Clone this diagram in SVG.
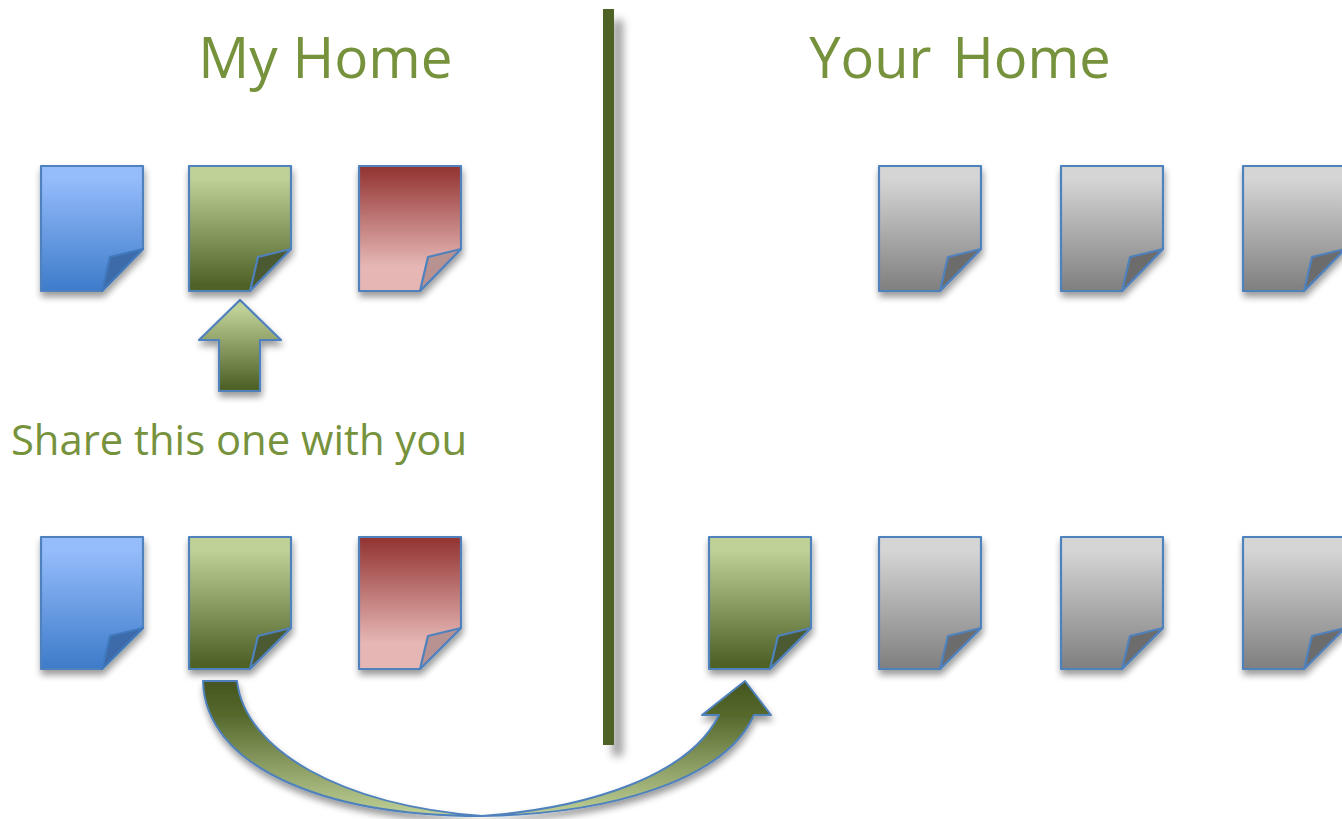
<svg xmlns="http://www.w3.org/2000/svg" xmlns:xlink="http://www.w3.org/1999/xlink" width="1342" height="819" viewBox="0 0 1342 819">
<style>
.t{font-family:"Open Sans","Noto Sans",sans-serif;fill:#76923c}
.s{stroke:#4f81bd;stroke-width:2.200;stroke-linejoin:round}
.blue{fill:url(#gb)}.green{fill:url(#gg)}.red{fill:url(#gr)}.grey{fill:url(#gy)}
.fb{fill:#3c6ba8;stroke:#4079bd}.fg{fill:#4c5a30}.fr{fill:#b89291}.fy{fill:#6c6c6c}
</style>
<defs>
<linearGradient id="gb" x1="0" y1="0" x2="0" y2="1"><stop offset="0.1" stop-color="#95bcfb"/><stop offset="1" stop-color="#3d7bca"/></linearGradient>
<linearGradient id="gg" x1="0" y1="0" x2="0" y2="1"><stop offset="0.1" stop-color="#c0d198"/><stop offset="0.95" stop-color="#4f6228"/></linearGradient>
<linearGradient id="gr" x1="0" y1="0" x2="0" y2="1"><stop offset="0.03" stop-color="#953735"/><stop offset="0.8" stop-color="#e5b6b4"/></linearGradient>
<linearGradient id="gy" x1="0" y1="0" x2="0" y2="1"><stop offset="0.1" stop-color="#d5d5d5"/><stop offset="1" stop-color="#7f7f7f"/></linearGradient>
<linearGradient id="gc" x1="0" y1="0" x2="0" y2="1"><stop offset="0" stop-color="#45551f"/><stop offset="0.25" stop-color="#55682c"/><stop offset="1" stop-color="#c0d198"/></linearGradient>
<filter id="sh" x="-20%" y="-20%" width="150%" height="150%"><feGaussianBlur in="SourceAlpha" stdDeviation="3.500"/><feOffset dx="1" dy="5"/><feComponentTransfer><feFuncA type="linear" slope="0.4"/></feComponentTransfer><feMerge><feMergeNode/><feMergeNode in="SourceGraphic"/></feMerge></filter>
<filter id="shl" x="-300%" y="-5%" width="800%" height="110%"><feGaussianBlur in="SourceAlpha" stdDeviation="4.500"/><feOffset dx="9" dy="11"/><feComponentTransfer><feFuncA type="linear" slope="0.38"/></feComponentTransfer><feMerge><feMergeNode/><feMergeNode in="SourceGraphic"/></feMerge></filter>
<path id="d1" d="M0 0H102V83L61 125H0Z"/>
<path id="f1" d="M102 83L69 91L61 125Z"/>
<path id="d2" d="M0 0H102V91L61 132H0Z"/>
<path id="f2" d="M102 91L69 99L61 132Z"/>
</defs>
<g id="connectors">
<path id="divider" d="M603 9H614V745H603Z" fill="#4f6228" filter="url(#shl)"/>
<g id="share-arrow"><path class="s green" filter="url(#sh)" d="M240 300L281 340H260V391H219V340H199Z"/></g>
<g id="curved-arrow"><path filter="url(#sh)" d="M203 681H237C245 750 340 805 482 816C590 808 690 775 719 715H702L745 681L771 715H754C725 780 610 814 482 816C320 816 205 765 203 681Z" fill="url(#gc)" stroke="#4f81bd" stroke-width="2" stroke-linejoin="round"/></g>
</g>
<g id="title-my"><text class="t" x="325.500" y="78" font-size="56.700" text-anchor="middle">My Home</text></g>
<g id="title-your"><text class="t" x="960" y="78" font-size="56" word-spacing="-4" text-anchor="middle" xml:space="preserve">Your  Home</text></g>
<g id="caption"><text class="t" x="239" y="455" font-size="41.800" text-anchor="middle">Share this one with you</text></g>
<g id="doc-blue-1" transform="translate(41 166)"><g filter="url(#sh)"><use xlink:href="#d1" class="s blue"/><use xlink:href="#f1" class="s fb"/></g></g>
<g id="doc-green-1" transform="translate(189 166)"><g filter="url(#sh)"><use xlink:href="#d1" class="s green"/><use xlink:href="#f1" class="s fg"/></g></g>
<g id="doc-red-1" transform="translate(359 166)"><g filter="url(#sh)"><use xlink:href="#d1" class="s red"/><use xlink:href="#f1" class="s fr"/></g></g>
<g id="doc-grey-1" transform="translate(879 166)"><g filter="url(#sh)"><use xlink:href="#d1" class="s grey"/><use xlink:href="#f1" class="s fy"/></g></g>
<g id="doc-grey-2" transform="translate(1061 166)"><g filter="url(#sh)"><use xlink:href="#d1" class="s grey"/><use xlink:href="#f1" class="s fy"/></g></g>
<g id="doc-grey-3" transform="translate(1243 166)"><g filter="url(#sh)"><use xlink:href="#d1" class="s grey"/><use xlink:href="#f1" class="s fy"/></g></g>
<g id="doc-blue-2" transform="translate(41 537)"><g filter="url(#sh)"><use xlink:href="#d2" class="s blue"/><use xlink:href="#f2" class="s fb"/></g></g>
<g id="doc-green-2" transform="translate(189 537)"><g filter="url(#sh)"><use xlink:href="#d2" class="s green"/><use xlink:href="#f2" class="s fg"/></g></g>
<g id="doc-red-2" transform="translate(359 537)"><g filter="url(#sh)"><use xlink:href="#d2" class="s red"/><use xlink:href="#f2" class="s fr"/></g></g>
<g id="doc-green-3" transform="translate(709 537)"><g filter="url(#sh)"><use xlink:href="#d2" class="s green"/><use xlink:href="#f2" class="s fg"/></g></g>
<g id="doc-grey-4" transform="translate(879 537)"><g filter="url(#sh)"><use xlink:href="#d2" class="s grey"/><use xlink:href="#f2" class="s fy"/></g></g>
<g id="doc-grey-5" transform="translate(1061 537)"><g filter="url(#sh)"><use xlink:href="#d2" class="s grey"/><use xlink:href="#f2" class="s fy"/></g></g>
<g id="doc-grey-6" transform="translate(1243 537)"><g filter="url(#sh)"><use xlink:href="#d2" class="s grey"/><use xlink:href="#f2" class="s fy"/></g></g>
</svg>
